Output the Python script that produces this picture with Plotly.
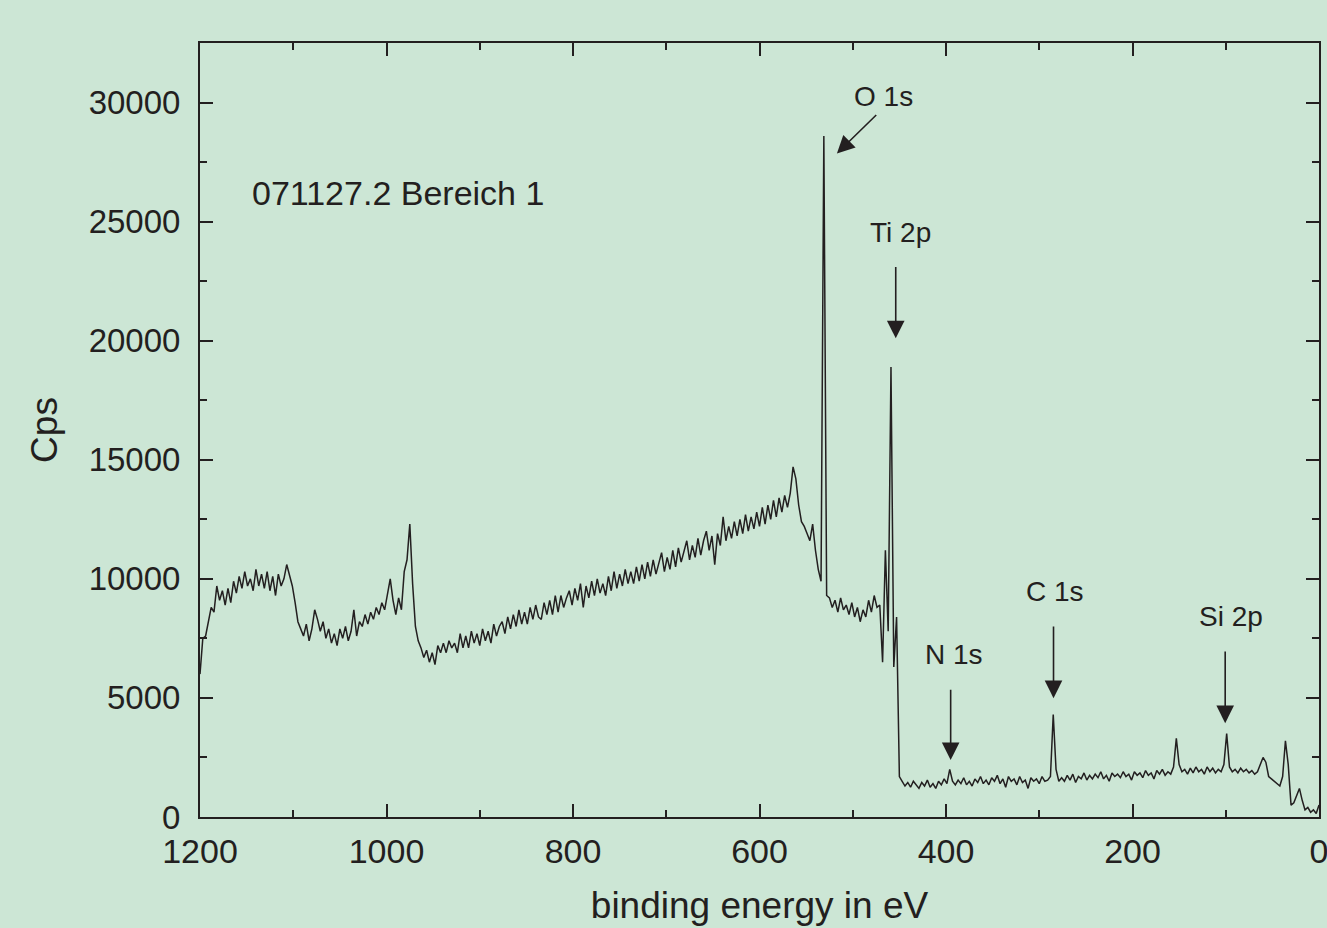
import plotly.graph_objects as go

# Survey spectrum: binding energy grid (eV), 3 eV step from 1200 down to 0
energy_start = 1200
energy_step = 3
counts_cps = [
    6000, 7500, 7600, 8200, 8800, 8600, 9700, 9100, 9500, 8900,        # 1200-1173
    9600, 9000, 9900, 9400, 10100, 9600, 10300, 9700, 10000, 9500,     # 1170-1143
    10400, 9700, 10200, 9600, 10300, 9500, 10100, 9300, 10200, 9700,   # 1140-1113
    10000, 10600, 10100, 9700, 9000, 8200, 7900, 7600, 8100, 7400,     # 1110-1083
    7900, 8700, 8300, 7800, 8200, 7500, 7900, 7300, 7700, 7200,        # 1080-1053
    7900, 7500, 8000, 7400, 7800, 8700, 7600, 8200, 8000, 8500,        # 1050-1023
    8100, 8600, 8300, 8800, 8500, 9000, 8700, 9300, 10000, 9100,       # 1020-993
    8500, 9200, 8700, 10300, 10800, 12300, 9800, 8000, 7400, 7100,     # 990-963
    6700, 7000, 6500, 6900, 6400, 7200, 6900, 7300, 6900, 7400,        # 960-933
    7100, 7300, 6900, 7700, 7100, 7600, 7100, 7800, 7300, 7700,        # 930-903
    7200, 7900, 7400, 7800, 7300, 8100, 7600, 8000, 8200, 7700,        # 900-873
    8400, 7900, 8500, 8000, 8700, 8100, 8600, 8100, 8800, 8300,        # 870-843
    8900, 8400, 8300, 9000, 8500, 9100, 8500, 9300, 8600, 9300,        # 840-813
    8800, 9200, 9500, 8900, 9600, 9100, 9800, 8800, 9700, 9200,        # 810-783
    9900, 9300, 10000, 9400, 9800, 9300, 10100, 9500, 10300, 9600,     # 780-753
    10200, 9700, 10400, 9800, 10300, 9800, 10500, 9900, 10600, 10000,  # 750-723
    10700, 10100, 10800, 10200, 10600, 11100, 10300, 10900, 10400, 11200,  # 720-693
    10500, 11300, 10700, 11100, 11600, 10800, 11400, 10900, 11700, 11000,  # 690-663
    11600, 12000, 11200, 11800, 10600, 11900, 11400, 12600, 11600, 12200,  # 660-633
    11700, 12400, 11800, 12500, 11900, 12700, 12000, 12600, 12100, 12800,  # 630-603
    12200, 13000, 12300, 13100, 12500, 13300, 12600, 13400, 12800, 13500,  # 600-573
    13000, 13600, 14700, 14200, 13100, 12400, 12200, 11900, 11600, 12300,  # 570-543
    11200, 10400, 9900, 28600, 9300, 9200, 8800, 9100, 8600, 9200,     # 540-513
    8700, 8900, 8500, 9000, 8400, 8800, 8200, 8700, 8400, 9100,        # 510-483
    8600, 9300, 8800, 8900, 6500, 11200, 7800, 18900, 6300, 8400,      # 480-453
    1700, 1500, 1300, 1450, 1250, 1500, 1350, 1200, 1450, 1300,        # 450-423
    1550, 1250, 1400, 1200, 1500, 1350, 1600, 1400, 2000, 1500,        # 420-393
    1350, 1550, 1400, 1650, 1350, 1500, 1300, 1600, 1450, 1700,        # 390-363
    1400, 1550, 1350, 1650, 1500, 1750, 1400, 1600, 1250, 1700,        # 360-333
    1500, 1600, 1350, 1700, 1450, 1550, 1200, 1650, 1500, 1600,        # 330-303
    1400, 1700, 1500, 1550, 1700, 4300, 2000, 1500, 1650, 1500,        # 300-273
    1750, 1550, 1800, 1450, 1700, 1600, 1850, 1550, 1750, 1600,        # 270-243
    1800, 1650, 1900, 1600, 1750, 1500, 1850, 1700, 1800, 1650,        # 240-213
    1900, 1700, 1800, 1550, 1900, 1750, 1850, 1650, 1950, 1750,        # 210-183
    1850, 1600, 1950, 1800, 2000, 1750, 1900, 1800, 2100, 3300,        # 180-153
    2200, 1900, 2000, 1800, 2050, 1850, 2100, 1900, 2000, 1800,        # 150-123
    2100, 1900, 2050, 1850, 2000, 1900, 2200, 3500, 2100, 1900,        # 120-93
    2000, 1850, 2050, 1900, 2000, 1850, 1950, 1800, 1900, 2200,        # 90-63
    2500, 2300, 1700, 1600, 1500, 1400, 1300, 1700, 3200, 2200,        # 60-33
    500, 600, 900, 1200, 700, 300, 400, 200, 300, 150,                 # 30-3
    500,                                                               # 0
]
energy_ev = [energy_start - energy_step * i for i in range(len(counts_cps))]

# Peak labels: text, label position (eV, cps), arrow tail (eV, cps), arrow tip (eV, cps)
peak_labels = ["O 1s", "Ti 2p", "N 1s", "C 1s", "Si 2p"]
label_x = [466.7, 448.5, 391.8, 282.6, 94.2]
label_y = [30250, 24550, 6840, 9480, 8430]
arrow_tail_x = [473.2, 453.9, 395.0, 284.7, 100.6]
arrow_tail_y = [29540, 23160, 5410, 8060, 7010]
arrow_tip_x = [517.0, 453.9, 395.0, 284.7, 100.6]
arrow_tip_y = [27860, 20100, 2390, 4990, 3940]

sample_label = "071127.2 Bereich 1"
x_title = "binding energy in eV"
y_title = "Cps"

INK = "#231f20"
BG = "#cce6d5"
FONT = "Liberation Sans, Arial, Helvetica, sans-serif"

fig = go.Figure()
fig.add_trace(go.Scatter(
    x=energy_ev, y=counts_cps, mode="lines",
    line=dict(color=INK, width=1.5), showlegend=False, hoverinfo="x+y",
))

annotations = [dict(
    x=1146.5, y=26220, xref="x", yref="y", text=sample_label, showarrow=False,
    xanchor="left", yanchor="middle", font=dict(family=FONT, size=34, color=INK),
)]
for t, lx, ly in zip(peak_labels, label_x, label_y):
    annotations.append(dict(
        x=lx, y=ly, xref="x", yref="y", text=t, showarrow=False,
        xanchor="center", yanchor="middle", font=dict(family=FONT, size=28, color=INK),
    ))
for tx, ty, hx, hy in zip(arrow_tail_x, arrow_tail_y, arrow_tip_x, arrow_tip_y):
    annotations.append(dict(
        x=hx, y=hy, ax=tx, ay=ty, xref="x", yref="y", axref="x", ayref="y",
        text="", showarrow=True, arrowhead=2, arrowsize=2.2, arrowwidth=1.6,
        arrowcolor=INK,
    ))

axis_common = dict(
    showline=True, linecolor=INK, linewidth=2, mirror="allticks",
    ticks="inside", ticklen=13, tickwidth=2, tickcolor=INK,
    showgrid=False, zeroline=False,
    tickformat="d",
    ticklabeloverflow="allow",
)

fig.update_layout(
    width=1327, height=928,
    margin=dict(l=200, r=6, t=43, b=111),
    paper_bgcolor=BG, plot_bgcolor=BG,
    font=dict(family=FONT, color=INK),
    annotations=annotations,
    xaxis=dict(
        range=[1200, 0], tick0=0, dtick=200,
        minor=dict(dtick=100, ticklen=7, tickwidth=2, tickcolor=INK, ticks="inside"),
        title=dict(text=x_title, font=dict(family=FONT, size=37, color=INK), standoff=23),
        tickfont=dict(family=FONT, size=34, color=INK),
        ticklabelstandoff=3,
        automargin=False,
        **axis_common,
    ),
    yaxis=dict(
        range=[0, 32500], tick0=0, dtick=5000,
        minor=dict(dtick=2500, ticklen=7, tickwidth=2, tickcolor=INK, ticks="inside"),
        title=dict(text=y_title, font=dict(family=FONT, size=37, color=INK), standoff=20),
        tickfont=dict(family=FONT, size=33, color=INK),
        ticklabelstandoff=11,
        **axis_common,
    ),
)

fig.write_html(
    "out.html",
    config={"displayModeBar": False},
    post_script="document.body.style.margin='0';document.body.style.background='" + BG + "';",
)
